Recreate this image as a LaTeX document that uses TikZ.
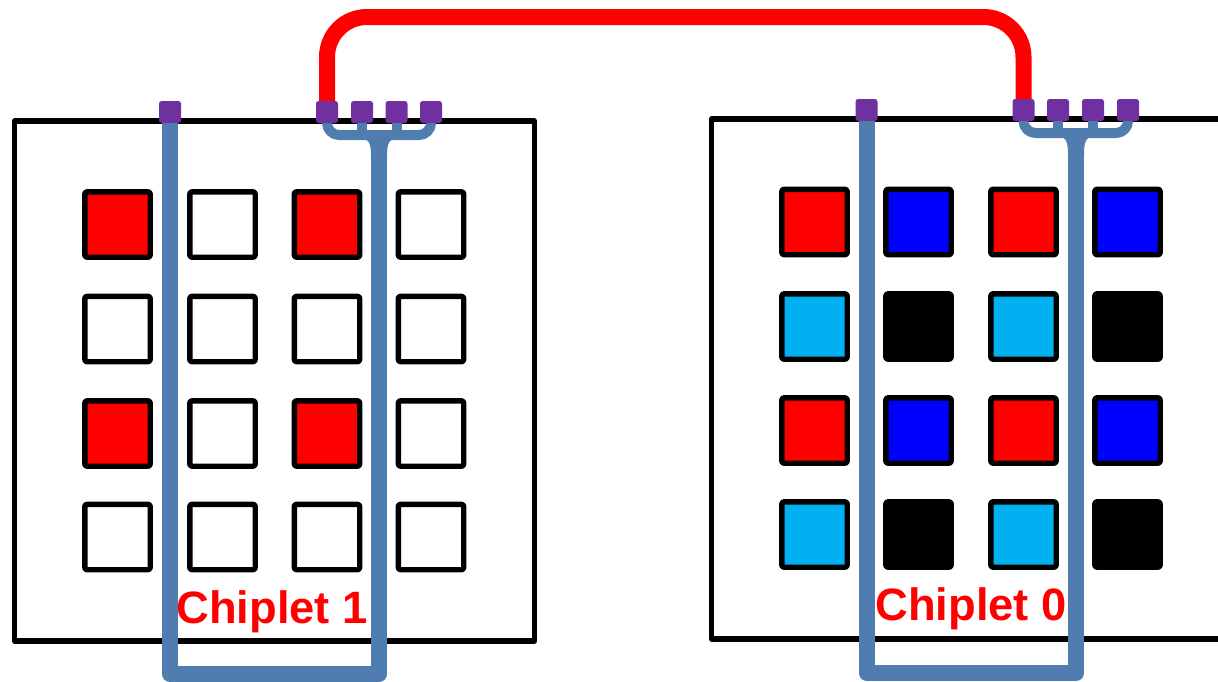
\documentclass[tikz,border=0pt]{standalone}
\usepackage{fontspec}
\setmainfont{Liberation Sans}
\definecolor{wireblue}{RGB}{79,125,176}
\definecolor{padpurple}{RGB}{112,48,160}
\definecolor{cellcyan}{RGB}{0,176,240}

\begin{document}
\begin{tikzpicture}[x=0.75pt, y=-0.75pt, line join=round,
    cellbox/.style={draw=black, line width=4pt, rounded corners=1.5pt, minimum size=49pt, inner sep=0pt},
    padbox/.style={fill=padpurple, rounded corners=2pt, minimum size=16.5pt, inner sep=0pt},
    wire/.style={draw=wireblue, line width=12pt},
    branch/.style={draw=wireblue, line width=7.5pt, rounded corners=9pt},
    redlink/.style={draw=red, line width=12pt, rounded corners=30pt},
    chiplabel/.style={text=red, font=\bfseries\fontsize{34}{40}\selectfont, inner sep=0pt, anchor=base}]
    \useasboundingbox (0,0) rectangle (1218,682);
    \clip (0,0) rectangle (1218,682);

    % chiplet outlines
    \draw [line width=4pt] (14.5,121) rectangle (534.5,641);
    \draw [line width=4pt] (711.5,119) rectangle (1240,639);

    % cells
    \foreach \y/\ca/\cb [count=\r] in {224.5/red/white, 329/white/white, 433.5/red/white, 537/white/white}
        \foreach \x/\cc [count=\c] in {117.5/\ca, 222.5/\cb, 327/\ca, 431/\cb}
            \node [cellbox, fill=\cc] (l\r\c) at (\x,\y) {};
    \foreach \y/\ca/\cb [count=\r] in {222/red/blue, 326.5/cellcyan/black, 430.5/red/blue, 534.5/cellcyan/black}
        \foreach \x/\cc [count=\c] in {814.5/\ca, 918.5/\cb, 1023.5/\ca, 1127.5/\cb}
            \node [cellbox, fill=\cc] (r\r\c) at (\x,\y) {};

    % pad positions
    \coordinate (lp0) at (170,112);
    \coordinate (lpa) at (327,112);
    \coordinate (lpb) at (362,112);
    \coordinate (lpc) at (396.5,112);
    \coordinate (lpd) at (431,112);
    \coordinate (lstem) at (379,135);
    \coordinate (rp0) at (866.5,110);
    \coordinate (rpa) at (1023.5,110);
    \coordinate (rpb) at (1058,110);
    \coordinate (rpc) at (1093,110);
    \coordinate (rpd) at (1128,110);
    \coordinate (rstem) at (1076,133);

    % blue wires
    \draw [wire] (lp0) -- (170,674) -- (379,674) -- (lstem);
    \draw [branch] (lpa) |- (lstem);
    \draw [branch] (lpd) |- (lstem);
    \draw [branch] (lpb) -- (lpb |- lstem);
    \draw [branch] (lpc) -- (lpc |- lstem);
    \fill [wireblue] (352,137) .. controls (370,137) and (371,142) .. (371,158)
        -- (387,158) .. controls (387,142) and (388,137) .. (406,137) -- cycle;

    \draw [wire] (rp0) -- (866.5,673) -- (1076,673) -- (rstem);
    \draw [branch] (rpa) |- (rstem);
    \draw [branch] (rpd) |- (rstem);
    \draw [branch] (rpb) -- (rpb |- rstem);
    \draw [branch] (rpc) -- (rpc |- rstem);
    \fill [wireblue] (1049,135) .. controls (1067,135) and (1068,140) .. (1068,156)
        -- (1084,156) .. controls (1084,140) and (1085,135) .. (1103,135) -- cycle;

    % red link
    \draw [redlink] (lpa) -- (327,17) -- (1023.5,17) -- (rpa);

    % pads
    \foreach \p in {lp0, lpa, lpb, lpc, lpd, rp0, rpa, rpb, rpc, rpd}
        \node [padbox] (\p-pad) at (\p) {};

    \node [chiplabel] (chip1) at (272,623) {Chiplet 1};
    \node [chiplabel] (chip0) at (971,620) {Chiplet 0};
\end{tikzpicture}
\end{document}
